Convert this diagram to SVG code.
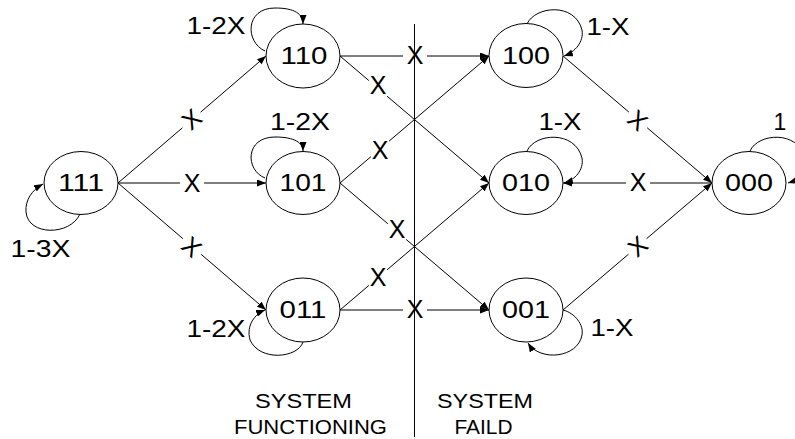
<svg xmlns="http://www.w3.org/2000/svg" width="795" height="439" viewBox="0 0 795 439">
  <style>
    .node ellipse { fill: #fff; stroke: #000; stroke-width: 1; }
    .node text { font-family: "Liberation Sans", Arial, sans-serif; font-size: 24px; text-anchor: middle; fill: #000; }
    .edge { fill: none; stroke: #000; stroke-width: 1; }
    .lbl { font-family: "Liberation Sans", Arial, sans-serif; font-size: 25px; text-anchor: middle; fill: #000; }
    .loop { font-family: "Liberation Sans", Arial, sans-serif; font-size: 23px; text-anchor: middle; fill: #000; }
    .cap { font-family: "Liberation Sans", Arial, sans-serif; font-size: 20px; text-anchor: middle; fill: #000; }
  </style>
  <defs>
    <marker id="arrow" markerWidth="9" markerHeight="7" refX="9" refY="3.5" orient="auto" markerUnits="userSpaceOnUse">
      <path d="M0,0 L9,3.5 L0,7 z" fill="#000"/>
    </marker>
  </defs>
  <rect width="795" height="439" fill="#fff"/>

  <!-- divider between working and failed states -->
  <line x1="414.5" y1="24" x2="414.5" y2="437" stroke="#000" stroke-width="1"/>

  <g id="connectors">
    <!-- 111 -> 110 -->
    <path class="edge" d="M118,183 L182.4,127.8"/>
    <path class="edge" d="M200.6,112.2 L266,56" marker-end="url(#arrow)"/>
    <!-- 111 -> 101 -->
    <path class="edge" d="M118,183 L180,183"/>
    <path class="edge" d="M204,183 L266,183" marker-end="url(#arrow)"/>
    <!-- 111 -> 011 -->
    <path class="edge" d="M118,183 L182.9,238.7"/>
    <path class="edge" d="M201.1,254.3 L266,310" marker-end="url(#arrow)"/>
    <!-- 110 -> 100 -->
    <path class="edge" d="M340,56 L403,56"/>
    <path class="edge" d="M427,56 L489,56" marker-end="url(#arrow)"/>
    <!-- 110 -> 010 -->
    <path class="edge" d="M340,56 L368.9,80.6"/>
    <path class="edge" d="M387.1,96.2 L489,183" marker-end="url(#arrow)"/>
    <!-- 101 -> 100 -->
    <path class="edge" d="M340,183 L370.9,156.7"/>
    <path class="edge" d="M389.1,141.1 L489,56" marker-end="url(#arrow)"/>
    <!-- 101 -> 001 -->
    <path class="edge" d="M340,183 L387.9,223.8"/>
    <path class="edge" d="M406.1,239.4 L489,310" marker-end="url(#arrow)"/>
    <!-- 011 -> 010 -->
    <path class="edge" d="M340,310 L368.9,285.4"/>
    <path class="edge" d="M387.1,269.8 L489,183" marker-end="url(#arrow)"/>
    <!-- 011 -> 001 -->
    <path class="edge" d="M340,310 L403,310"/>
    <path class="edge" d="M427,310 L489,310" marker-end="url(#arrow)"/>
    <!-- 100 -> 000 -->
    <path class="edge" d="M563,56 L628.9,112.1"/>
    <path class="edge" d="M647.1,127.7 L712,183" marker-end="url(#arrow)"/>
    <!-- 000 -> 010 -->
    <path class="edge" d="M712,183 L650,183"/>
    <path class="edge" d="M626,183 L563,183" marker-end="url(#arrow)"/>
    <!-- 001 -> 000 -->
    <path class="edge" d="M563,310 L628.4,254.3"/>
    <path class="edge" d="M646.6,238.7 L712,183" marker-end="url(#arrow)"/>

    <!-- self loops -->
    <path class="edge" d="M80,214 C70,236 28,236 26,212 C25,200 32,190 43,184" marker-end="url(#arrow)"/>
    <path class="edge" d="M265,51 C245,42 245,8 275,8 C295,8 303,14 303,24" marker-end="url(#arrow)"/>
    <path class="edge" d="M265,178 C245,170 245,137 275,137 C295,137 303,143 303,151" marker-end="url(#arrow)"/>
    <path class="edge" d="M303,342 C298,358 260,362 250,340 C246,325 255,314 265,310" marker-end="url(#arrow)"/>
    <path class="edge" d="M527,24 C535,6 575,2 582,30 C584,42 575,52 564,56" marker-end="url(#arrow)"/>
    <path class="edge" d="M527,151 C535,133 575,130 582,158 C584,170 575,180 564,183" marker-end="url(#arrow)"/>
    <path class="edge" d="M563,310 C575,313 584,325 582,335 C578,358 540,362 528,343" marker-end="url(#arrow)"/>
    <path class="edge" d="M750,151 C758,133 798,130 805,158 C807,170 798,180 788,183" marker-end="url(#arrow)"/>

    <!-- transition labels -->
    <text class="lbl" transform="translate(191.5,119) rotate(-40.6)" x="0" y="9">X</text>
    <text class="lbl" x="192" y="192">X</text>
    <text class="lbl" transform="translate(192,246.5) rotate(40.6)" x="0" y="9">X</text>
    <text class="lbl" x="415" y="64">X</text>
    <text class="lbl" x="378" y="94">X</text>
    <text class="lbl" x="380" y="159">X</text>
    <text class="lbl" x="397" y="238">X</text>
    <text class="lbl" x="378" y="286">X</text>
    <text class="lbl" x="415" y="317.5">X</text>
    <text class="lbl" transform="translate(638,120) rotate(40.4)" x="0" y="9">X</text>
    <text class="lbl" x="638" y="190.5">X</text>
    <text class="lbl" transform="translate(637.5,246) rotate(-40.4)" x="0" y="9">X</text>

    <!-- self-loop labels -->
    <text class="loop" x="40.5" y="257" textLength="60" lengthAdjust="spacingAndGlyphs">1-3X</text>
    <text class="loop" x="216" y="34" textLength="59" lengthAdjust="spacingAndGlyphs">1-2X</text>
    <text class="loop" x="300" y="130" textLength="60" lengthAdjust="spacingAndGlyphs">1-2X</text>
    <text class="loop" x="216" y="337" textLength="59" lengthAdjust="spacingAndGlyphs">1-2X</text>
    <text class="loop" x="608" y="35" textLength="43" lengthAdjust="spacingAndGlyphs">1-X</text>
    <text class="loop" x="560" y="130" textLength="43" lengthAdjust="spacingAndGlyphs">1-X</text>
    <text class="loop" x="612" y="336" textLength="43" lengthAdjust="spacingAndGlyphs">1-X</text>
    <text class="loop" x="780" y="130">1</text>
  </g>

  <g id="n111" class="node">
    <ellipse cx="81" cy="183" rx="37" ry="31.5"/>
    <text x="81" y="191" textLength="46" lengthAdjust="spacingAndGlyphs">111</text>
  </g>
  <g id="n110" class="node">
    <ellipse cx="303" cy="56" rx="37" ry="32"/>
    <text x="304" y="64" textLength="47" lengthAdjust="spacingAndGlyphs">110</text>
  </g>
  <g id="n101" class="node">
    <ellipse cx="303" cy="183" rx="37" ry="31.5"/>
    <text x="303" y="191" textLength="47" lengthAdjust="spacingAndGlyphs">101</text>
  </g>
  <g id="n011" class="node">
    <ellipse cx="303" cy="310" rx="37" ry="32"/>
    <text x="303" y="318" textLength="47" lengthAdjust="spacingAndGlyphs">011</text>
  </g>
  <g id="n100" class="node">
    <ellipse cx="526" cy="55.5" rx="37" ry="32"/>
    <text x="526" y="64" textLength="48" lengthAdjust="spacingAndGlyphs">100</text>
  </g>
  <g id="n010" class="node">
    <ellipse cx="526" cy="183" rx="37" ry="31.5"/>
    <text x="526" y="191" textLength="48" lengthAdjust="spacingAndGlyphs">010</text>
  </g>
  <g id="n001" class="node">
    <ellipse cx="526" cy="310" rx="37" ry="32"/>
    <text x="526" y="318" textLength="48" lengthAdjust="spacingAndGlyphs">001</text>
  </g>
  <g id="n000" class="node">
    <ellipse cx="749" cy="183" rx="37" ry="31.5"/>
    <text x="749" y="191" textLength="48" lengthAdjust="spacingAndGlyphs">000</text>
  </g>

  <!-- region captions -->
  <text class="cap" x="303.5" y="408" textLength="97" lengthAdjust="spacingAndGlyphs">SYSTEM</text>
  <text class="cap" x="310.5" y="434" textLength="153" lengthAdjust="spacingAndGlyphs">FUNCTIONING</text>
  <text class="cap" x="485" y="408" textLength="96" lengthAdjust="spacingAndGlyphs">SYSTEM</text>
  <text class="cap" x="483.5" y="434" textLength="58" lengthAdjust="spacingAndGlyphs">FAILD</text>
</svg>
